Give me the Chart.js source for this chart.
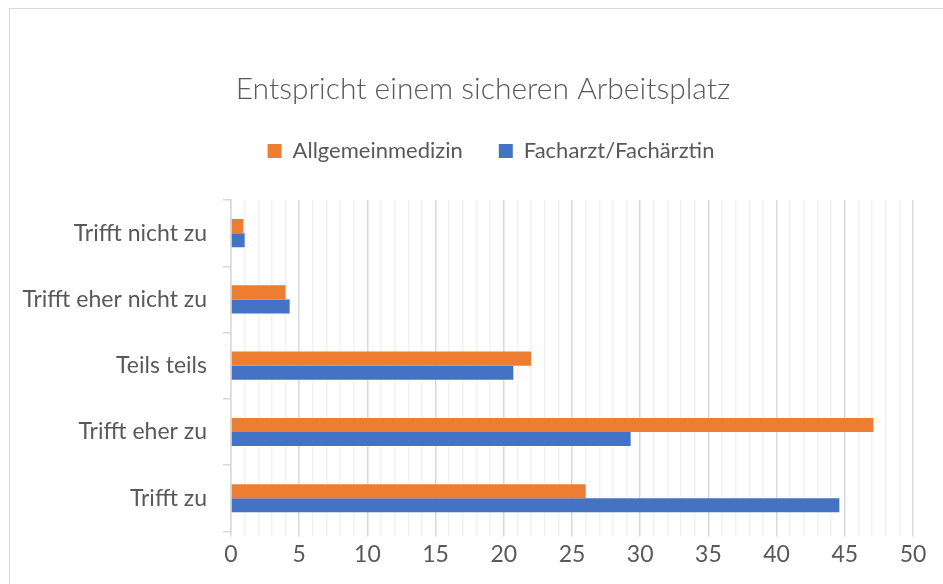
<!DOCTYPE html>
<html>
<head>
<meta charset="utf-8">
<script src="https://cdn.jsdelivr.net/npm/chart.js@4"></script>
<style>
  html, body { margin: 0; padding: 0; background: #fff; overflow: hidden; }
  #wrap { position: relative; width: 943px; height: 584px; }
  #frame { position: absolute; left: 9px; top: 8px; width: 1000px; height: 1000px; border: 1px solid #d9d9d9; box-sizing: border-box; }
  canvas { position: absolute; left: 0; top: 0; }
</style>
</head>
<body>
<div id="wrap">
  <div id="frame"></div>
  <canvas id="chart" width="943" height="584"></canvas>
</div>
<script>
// Data
var categories = ['Trifft nicht zu', 'Trifft eher nicht zu', 'Teils teils', 'Trifft eher zu', 'Trifft zu'];
var allgemein = [0.9, 4.0, 22.0, 47.1, 26.0];
var facharzt = [1.0, 4.3, 20.7, 29.3, 44.6];
var seriesNames = ['Allgemeinmedizin', 'Facharzt/Fachärztin'];
var xMin = 0, xMax = 50, xMajor = 5;

var textColor = '#595959';
var fontFamily = 'Lato, "Open Sans", sans-serif';

// the plot starts a bit below the legend, title + legend sit right of the plot centre
var headerTweak = {
    id: 'headerTweak',
    beforeInit: function (chart) {
        var fitOrig = chart.legend.fit;
        chart.legend.fit = function () {
            fitOrig.bind(chart.legend)();
            this.height += 28;
        };
    },
    afterLayout: function (chart) {
        chart.titleBlock.left += 22;
        chart.titleBlock.right += 22;
        chart.legend.left += 30;
        chart.legend.right += 30;
    }
};

var ctx = document.getElementById('chart').getContext('2d');
var chart = new Chart(ctx, {
    type: 'bar',
    data: {
        labels: categories,
        datasets: [{
            label: seriesNames[0],
            data: allgemein,
            backgroundColor: '#ED7D31',
            borderWidth: 0,
            categoryPercentage: 0.425,
            barPercentage: 1.0
        }, {
            label: seriesNames[1],
            data: facharzt,
            backgroundColor: '#4472C4',
            borderWidth: 0,
            categoryPercentage: 0.425,
            barPercentage: 1.0
        }]
    },
    options: {
        indexAxis: 'y',
        responsive: false,
        animation: false,
        layout: {
            padding: { left: 9, right: 30, top: 0, bottom: 12 }
        },
        plugins: {
            title: {
                display: true,
                text: 'Entspricht einem sicheren Arbeitsplatz',
                color: textColor,
                font: { family: fontFamily, size: 30, weight: '300', lineHeight: 1.0 },
                padding: { top: 74, bottom: 0 }
            },
            legend: {
                position: 'top',
                labels: {
                    color: textColor,
                    boxWidth: 14,
                    boxHeight: 14,
                    padding: 36,
                    font: { family: fontFamily, size: 22 }
                }
            },
            tooltip: { enabled: false }
        },
        scales: {
            x: {
                min: xMin,
                max: xMax,
                border: { display: false },
                grid: {
                    color: function (c) {
                        return c.tick && c.tick.value % xMajor === 0 ? '#d9d9d9' : '#f2f2f2';
                    },
                    lineWidth: 1.5,
                    tickLength: 5
                },
                ticks: {
                    stepSize: 1,
                    autoSkip: false,
                    maxRotation: 0,
                    padding: 4,
                    color: textColor,
                    font: { family: fontFamily, size: 23 },
                    callback: function (v) {
                        return v % xMajor === 0 ? v : '';
                    }
                }
            },
            y: {
                border: { display: true, color: '#d9d9d9', width: 1.5 },
                grid: {
                    offset: true,
                    drawOnChartArea: false,
                    drawTicks: true,
                    tickLength: 8,
                    color: '#d9d9d9',
                    lineWidth: 1.5
                },
                ticks: {
                    padding: 16,
                    color: textColor,
                    font: { family: fontFamily, size: 23 }
                },
                afterFit: function (scale) {
                    scale.width = 222;
                }
            }
        }
    },
    plugins: [headerTweak]
});
</script>
</body>
</html>
